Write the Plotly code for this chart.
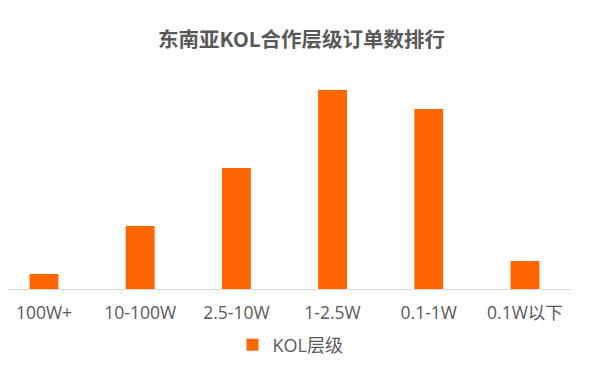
import plotly.graph_objects as go

categories = ["100W+", "10-100W", "2.5-10W", "1-2.5W", "0.1-1W", "0.1W以下"]
values = [15, 63, 121, 199, 180, 28]
series_name = "KOL层级"
title = "东南亚KOL合作层级订单数排行"

font_family = "Open Sans, Noto Sans CJK SC, sans-serif"
title_family = "Noto Sans CJK SC, sans-serif"

fig = go.Figure()
fig.add_trace(go.Bar(x=categories, y=values, name=series_name,
                     marker=dict(color="#FF6600", line=dict(width=0))))

fig.update_layout(
    width=593, height=368,
    margin=dict(l=0, r=29, t=62, b=87, autoexpand=False),
    paper_bgcolor="white", plot_bgcolor="white",
    title=dict(text="<b>" + title + "</b>", x=293.5 / 593, xanchor="center", y=1 - 32 / 368,
               yanchor="middle",
               font=dict(family=title_family, size=20.5, color="#595959")),
    bargap=0.7,
    showlegend=True,
    legend=dict(orientation="h", x=297 / 593, xanchor="center", yref="container", y=1 - 337 / 368,
                yanchor="middle",
                font=dict(family=font_family, size=18, color="#595959"),
                itemwidth=30),
    xaxis=dict(range=[-0.374, 5.489], showline=True, linecolor="#d9d9d9", linewidth=1,
               ticks="", ticklabelstandoff=8,
               tickfont=dict(family=font_family, size=17.5, color="#595959"),
               showgrid=False, automargin=False),
    yaxis=dict(range=[0, 219], visible=False, showgrid=False, zeroline=False),
)

fig.write_html("out.html")
